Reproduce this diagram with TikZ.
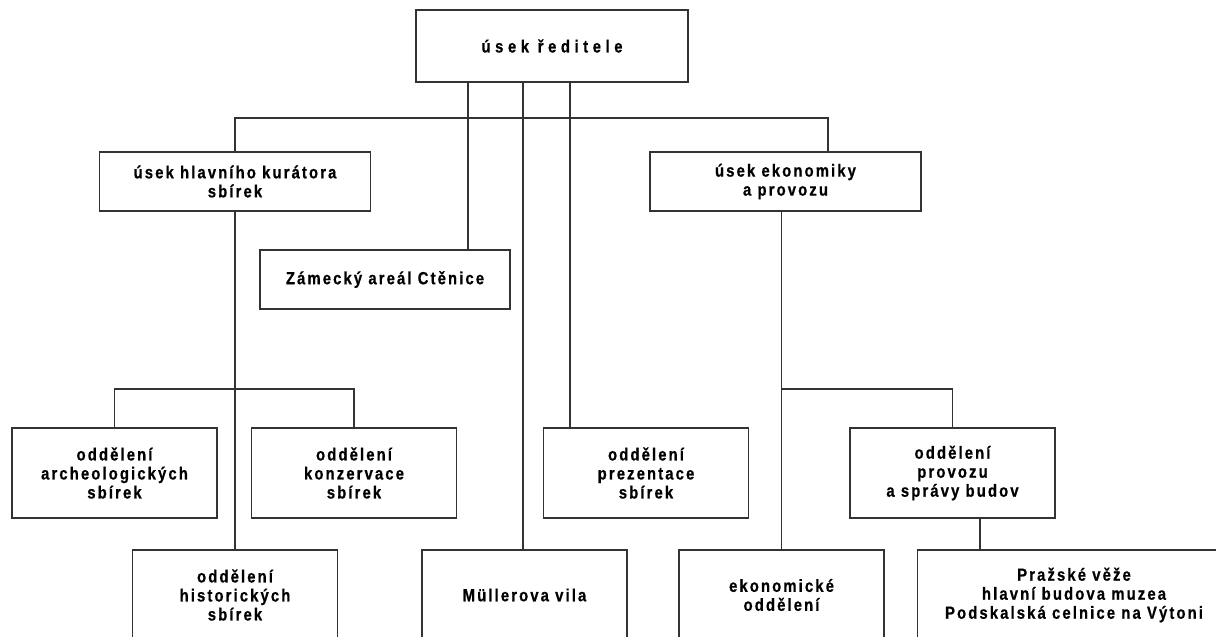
\documentclass[tikz,border=0pt]{standalone}
\usepackage{fontspec}
\setmainfont{Liberation Sans}[FakeStretch=0.85, LetterSpace=12, BoldFeatures={FakeBold=0.6}]
\usepackage{tikz}

\tikzset{
	line/.style={line width=1.1pt, draw=black!80},
	box/.style={line, rectangle, align=center, inner sep=0pt, minimum width=205pt, minimum height=90pt, font=\bfseries\fontsize{17.5}{19}\selectfont},
	head/.style={box, minimum width=271pt, minimum height=59pt},
}

\begin{document}
\begin{tikzpicture}[x=1pt, y=-1pt]
	\useasboundingbox (0,0) rectangle (1216,637);
	\clip (0,0) rectangle (1216,637);
	\node [box, minimum width=272pt, minimum height=72pt] (ured) at (552,46) {\addfontfeatures{LetterSpace=26}úsek ředitele};
	\node [head] (kurator) at (235,181.5) {úsek hlavního kurátora\\sbírek};
	\node [head] (ekon) at (785.5,181.5) {úsek ekonomiky\\a provozu};
	\node [head, minimum width=250pt] (zamek) at (385,279.5) {Zámecký areál Ctěnice};
	\node [box] (arch) at (114.5,473) {oddělení\\archeologických\\sbírek};
	\node [box] (konz) at (354,473) {oddělení\\konzervace\\sbírek};
	\node [box] (prez) at (646,473) {oddělení\\prezentace\\sbírek};
	\node [box] (provoz) at (952.5,473) {oddělení\\provozu\\a správy budov};
	\node [box] (hist) at (235,595) {oddělení\\historických\\sbírek};
	\node [box] (muller) at (524.5,595) {Müllerova vila};
	\node [box] (ekonom) at (781.5,595) {ekonomické\\oddělení};
	\node [box, minimum width=313pt] (praha) at (1074,595) {Pražské věže\\hlavní budova muzea\\Podskalská celnice na Výtoni};
	\coordinate (busL) at (235,118);
	\coordinate (busR) at (828,118);
	\coordinate (colZ) at (468,118);
	\coordinate (colM) at (523,118);
	\coordinate (colP) at (570,118);
	\coordinate (busK) at (0,389);
	\coordinate (colV) at (980,0);
	\draw [line] (kurator.north) -- (busL) -- (busR) -- (ekon.north -| busR);
	\draw [line] (ured.south -| colZ) -- (zamek.north -| colZ);
	\draw [line] (ured.south -| colM) -- (muller.north -| colM);
	\draw [line] (ured.south -| colP) -- (prez.north -| colP);
	\draw [line] (kurator.south) -- (hist.north);
	\draw [line] (arch.north) -- (arch.north |- busK) -| (konz.north);
	\draw [line] (ekon.south -| ekonom.north) -- (ekonom.north);
	\draw [line] (ekonom.north |- busK) -| (provoz.north);
	\draw [line] (provoz.south -| colV) -- (praha.north -| colV);
\end{tikzpicture}
\end{document}
